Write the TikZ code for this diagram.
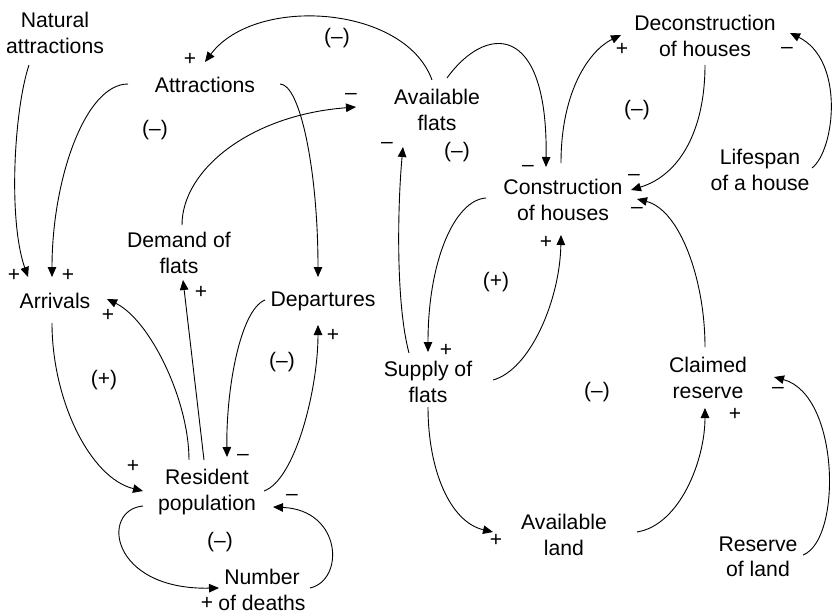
\documentclass[tikz,border=0pt]{standalone}
\usepackage{fontspec}
\setmainfont{Liberation Sans}
\usetikzlibrary{arrows.meta}
\begin{document}
\begin{tikzpicture}[x=1pt,y=-1pt,
  var/.style={align=center,inner sep=0pt,font=\fontsize{21.2}{25.5}\selectfont},
  sign/.style={inner sep=0pt,font=\fontsize{21}{25}\selectfont},
  loopmark/.style={inner sep=0pt,font=\fontsize{21}{25}\selectfont},
  link/.style={line width=0.9pt,-{Triangle[length=10pt,width=8.5pt]}}]
\useasboundingbox (0,0) rectangle (833,615);

% variables
\node[var] (nat)  at (55,33)   {Natural\\attractions};
\node[var] (att)  at (205,85)  {Attractions};
\node[var] (avf)  at (437,110) {Available\\flats};
\node[var] (dec)  at (705,36)  {Deconstruction\\of houses};
\node[var] (life) at (760,170) {Lifespan\\of a house};
\node[var] (con)  at (563,200) {Construction\\of houses};
\node[var] (dem)  at (179,253) {Demand of\\flats};
\node[var] (arr)  at (55,301)  {Arrivals};
\node[var] (dep)  at (323,301) {Departures};
\node[var] (sup)  at (428,382) {Supply of\\flats};
\node[var] (cla)  at (708,378) {Claimed\\reserve};
\node[var] (res)  at (207,492) {Resident\\population};
\node[var] (avl)  at (564,535) {Available\\land};
\node[var] (rol)  at (758,557) {Reserve\\of land};
\node[var] (nod)  at (262,590) {Number\\of deaths};

% loop polarities
\node[loopmark] (lp1) at (337,38)  {(–)};
\node[loopmark] (lp2) at (155,130) {(–)};
\node[loopmark] (lp3) at (457,152) {(–)};
\node[loopmark] (lp4) at (637,110) {(–)};
\node[loopmark] (lp5) at (496,282) {(+)};
\node[loopmark] (lp6) at (104,380) {(+)};
\node[loopmark] (lp7) at (282,362) {(–)};
\node[loopmark] (lp8) at (220,542) {(–)};
\node[loopmark] (lp9) at (597,392) {(–)};

% causal links
\draw[link] ([shift={(-5,-30)}]avf.center) .. controls (405,5) and (255,-5) .. ([shift={(0,-23)}]att.center);
\draw[link] ([shift={(-77,-1)}]att.center) .. controls (85,84) and (52,180) .. ([shift={(-3,-24)}]arr.center);
\draw[link] ([shift={(-26,32)}]nat.center) .. controls (14,110) and (8,220) .. ([shift={(-27,-24)}]arr.center);
\draw[link] ([shift={(75,-1)}]att.center) .. controls (300,84) and (318,170) .. ([shift={(-5,-24)}]dep.center);
\draw[link] ([shift={(3,-28)}]dem.center) .. controls (182,170) and (250,115) .. ([shift={(-81,-3)}]avf.center);
\draw[link] ([shift={(-19,-29)}]sup.center) .. controls (395,300) and (398,200) .. ([shift={(-34,37)}]avf.center);
\draw[link] ([shift={(10,-32)}]avf.center) .. controls (485,25) and (548,20) .. ([shift={(-17,-33)}]con.center);
\draw[link] ([shift={(-2,-37)}]con.center) .. controls (561,90) and (590,50) .. ([shift={(-84,-1)}]dec.center);
\draw[link] ([shift={(0,29)}]dec.center) .. controls (705,130) and (680,175) .. ([shift={(68,-10)}]con.center);
\draw[link] ([shift={(52,-2)}]life.center) .. controls (835,150) and (845,60) .. ([shift={(85,-3)}]dec.center);
\draw[link] ([shift={(-3,-31)}]cla.center) .. controls (705,280) and (680,210) .. ([shift={(74,-1)}]con.center);
\draw[link] ([shift={(-77,-2)}]con.center) .. controls (455,200) and (428,260) .. ([shift={(0,-30)}]sup.center);
\draw[link] ([shift={(65,-2)}]sup.center) .. controls (530,370) and (560,300) .. ([shift={(-2,35)}]con.center);
\draw[link] ([shift={(0,25)}]sup.center) .. controls (428,470) and (450,522) .. ([shift={(-71,-3)}]avl.center);
\draw[link] ([shift={(73,-3)}]avl.center) .. controls (680,525) and (705,460) .. ([shift={(-3,30)}]cla.center);
\draw[link] ([shift={(45,-2)}]rol.center) .. controls (842,540) and (840,395) .. ([shift={(66,-1)}]cla.center);
\draw[link] ([shift={(-18,-32)}]res.center) .. controls (189,400) and (150,320) .. ([shift={(52,-2)}]arr.center);
\draw[link] ([shift={(-3,-32)}]res.center) -- ([shift={(4,27)}]dem.center);
\draw[link] ([shift={(-58,-1)}]dep.center) .. controls (240,310) and (226,390) .. ([shift={(20,-35)}]res.center);
\draw[link] ([shift={(57,-1)}]res.center) .. controls (295,480) and (318,390) .. ([shift={(-5,24)}]dep.center);
\draw[link] ([shift={(-3,22)}]arr.center) .. controls (52,400) and (90,478) .. ([shift={(-64,-1)}]res.center);
\draw[link] ([shift={(-64,14)}]res.center) .. controls (100,510) and (110,590) .. ([shift={(-43,-2)}]nod.center);
\draw[link] ([shift={(48,-2)}]nod.center) .. controls (345,580) and (342,510) .. ([shift={(66,15)}]res.center);

% link polarities
\node[sign] (p1)  at (190,59)  {+};
\node[sign] (p2)  at (68,275)  {+};
\node[sign] (p3)  at (14,275)  {+};
\node[sign] (p5)  at (351,96)  {–};
\node[sign] (p6)  at (387,145) {–};
\node[sign] (p7)  at (528,168) {–};
\node[sign] (p8)  at (622,49)  {+};
\node[sign] (p9)  at (634,177) {–};
\node[sign] (p10) at (787,50)  {–};
\node[sign] (p11) at (637,210) {–};
\node[sign] (p12) at (446,350) {+};
\node[sign] (p13) at (546,242) {+};
\node[sign] (p14) at (496,540) {+};
\node[sign] (p15) at (735,414) {+};
\node[sign] (p16) at (778,390) {–};
\node[sign] (p17) at (108,315) {+};
\node[sign] (p18) at (201,292) {+};
\node[sign] (p19) at (243,457) {–};
\node[sign] (p20) at (333,335) {+};
\node[sign] (p21) at (133,466) {+};
\node[sign] (p22) at (207,603) {+};
\node[sign] (p23) at (292,497) {–};
\end{tikzpicture}
\end{document}
